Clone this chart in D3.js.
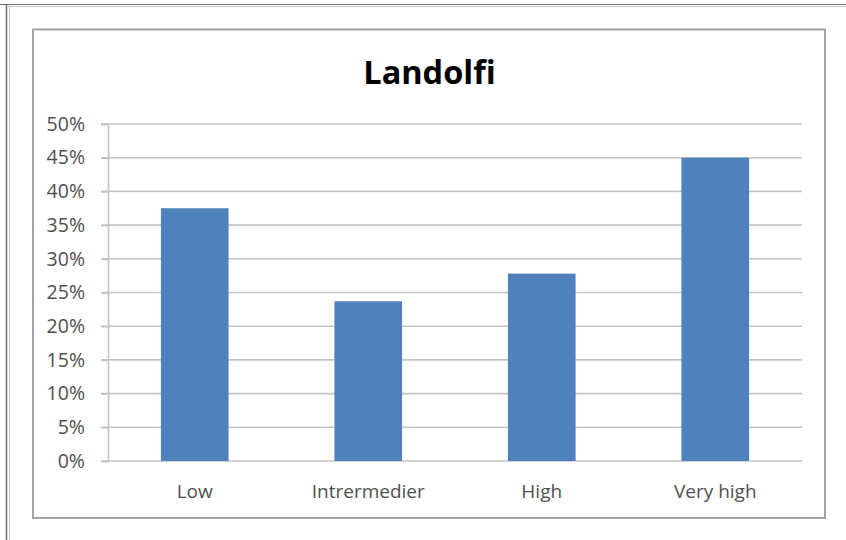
<!DOCTYPE html>
<html>
<head>
<meta charset="utf-8">
<script src="https://cdn.jsdelivr.net/npm/d3@7"></script>
<style>
  html, body { margin: 0; padding: 0; background: #fff; }
  svg { display: block; }
  text { font-family: "Open Sans", "Liberation Sans", sans-serif; }
</style>
</head>
<body>
<svg id="chart" width="846" height="540"></svg>
<script>
// Share of respondents per level
const categories = ["Low", "Intrermedier", "High", "Very high"];
const values = [0.375, 0.237, 0.278, 0.45];
const yTicks = [0, 0.05, 0.10, 0.15, 0.20, 0.25, 0.30, 0.35, 0.40, 0.45, 0.50];
const title = "Landolfi";

const svg = d3.select("#chart");

// outer frame
svg.append("line").attr("x1", 0).attr("x2", 846).attr("y1", 4.5).attr("y2", 4.5)
  .attr("stroke", "#6e6e6e").attr("stroke-width", 1.2);
svg.append("line").attr("x1", 8).attr("x2", 846).attr("y1", 6.5).attr("y2", 6.5)
  .attr("stroke", "#c8c8c8").attr("stroke-width", 1);
svg.append("line").attr("x1", 6.5).attr("x2", 6.5).attr("y1", 4).attr("y2", 540)
  .attr("stroke", "#6e6e6e").attr("stroke-width", 1.5);
svg.append("line").attr("x1", 9.5).attr("x2", 9.5).attr("y1", 6).attr("y2", 540)
  .attr("stroke", "#c8c8c8").attr("stroke-width", 1);

// chart area box
svg.append("rect").attr("x", 33).attr("y", 29.5).attr("width", 792).attr("height", 488.5)
  .attr("fill", "#fff").attr("stroke", "#a3a3a3").attr("stroke-width", 2);

const plot = { left: 108, right: 802, top: 124, bottom: 461 };

const x = d3.scaleBand().domain(categories)
  .range([plot.left, plot.right]).paddingInner(0.61).paddingOuter(0.305);
const y = d3.scaleLinear().domain([0, 0.5]).range([plot.bottom, plot.top]);

// horizontal gridlines
svg.append("g").selectAll("line").data(yTicks).join("line")
  .attr("x1", plot.left - 7).attr("x2", plot.right)
  .attr("y1", d => y(d)).attr("y2", d => y(d))
  .attr("stroke", "#c4c4c4").attr("stroke-width", 1.6);

// y axis
const yAxis = svg.append("g").attr("transform", `translate(${plot.left},0)`)
  .call(d3.axisLeft(y).tickValues(yTicks).tickFormat(d3.format(".0%")).tickSize(7).tickPadding(16));
yAxis.select(".domain").attr("stroke", "#c4c4c4").attr("stroke-width", 1.6);
yAxis.selectAll(".tick line").attr("stroke", "#c4c4c4").attr("stroke-width", 1.6);
yAxis.selectAll(".tick text").attr("fill", "#505050").attr("font-size", 19.5)
  .attr("font-family", "'Open Sans', sans-serif");

// bars
svg.append("g").selectAll("rect").data(values).join("rect")
  .attr("x", (d, i) => x(categories[i]))
  .attr("width", x.bandwidth())
  .attr("y", d => y(d))
  .attr("height", d => y(0) - y(d))
  .attr("fill", "#4f81bd");

// category labels
svg.append("g").selectAll("text").data(categories).join("text")
  .attr("x", d => x(d) + x.bandwidth() / 2)
  .attr("y", plot.bottom + 37)
  .attr("text-anchor", "middle")
  .attr("fill", "#505050").attr("font-size", 19)
  .text(d => d);

// title
svg.append("text").attr("x", 429.5).attr("y", 84)
  .attr("text-anchor", "middle").attr("font-size", 32.5).attr("font-weight", "bold")
  .attr("fill", "#000").text(title);
</script>
</body>
</html>
